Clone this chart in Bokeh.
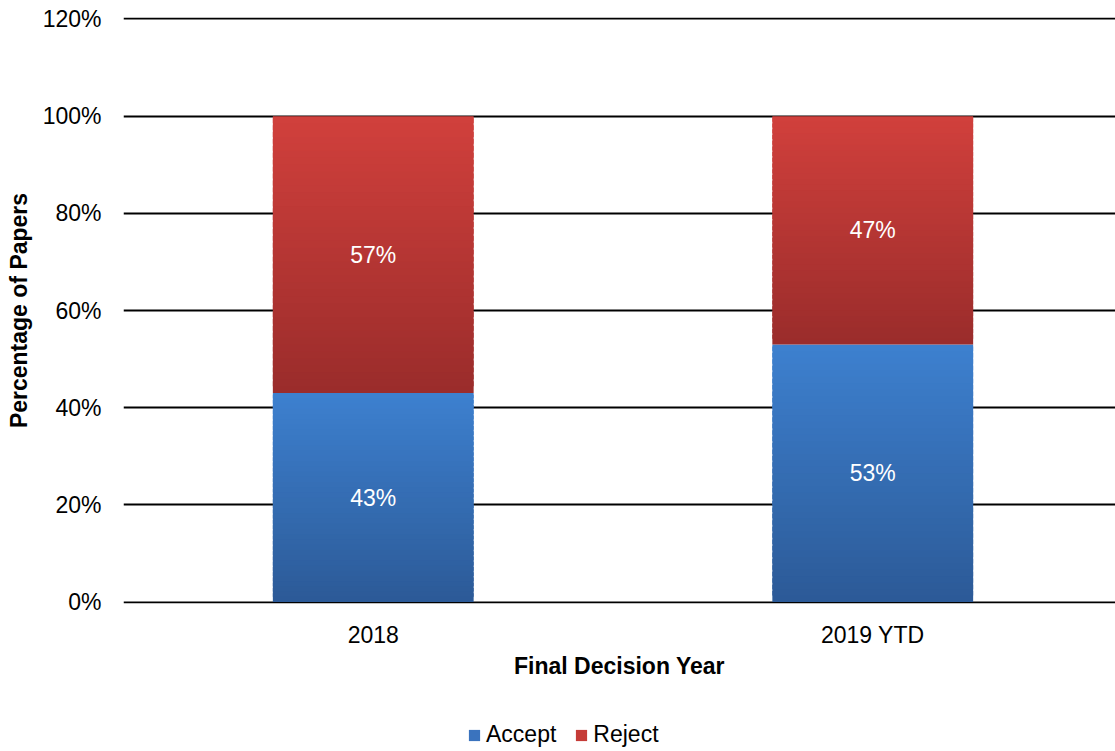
from bokeh.plotting import figure
from bokeh.layouts import column
from bokeh.models import Range1d, FixedTicker, ColumnDataSource, Legend, LegendItem
from bokeh.core.properties import value
from bokeh.embed import file_html
from bokeh.resources import INLINE

years = ["2018", "2019 YTD"]
accept = [43, 53]
reject = [57, 47]
y_ticks = [0, 20, 40, 60, 80, 100, 120]
series_names = ["Accept", "Reject"]

FONT = "Liberation Sans"

def lerp(c1, c2, t):
    return "#%02x%02x%02x" % tuple(int(round(a + (b - a) * t)) for a, b in zip(c1, c2))

blue_top, blue_bot = (61, 128, 207), (44, 90, 151)
red_top, red_bot = (209, 64, 60), (154, 44, 43)
legend_colors = {"Accept": "#3a73be", "Reject": "#c53b37"}

xs = [i + 0.5 for i in range(len(years))]

p = figure(width=1115, height=710, output_backend="svg", toolbar_location=None,
           x_range=Range1d(0, 1.986), y_range=Range1d(-0.3, 120.3),
           min_border_left=123, min_border_right=0, min_border_top=17, min_border_bottom=107)
p.outline_line_color = None
p.background_fill_color = "white"

N = 40
for name, vals, bases, ctop, cbot in [
        ("Accept", accept, [0, 0], blue_top, blue_bot),
        ("Reject", reject, accept, red_top, red_bot)]:
    bx, bb, bt, bc = [], [], [], []
    for x, v, b in zip(xs, vals, bases):
        step = v / N
        for k in range(N):
            lo = b + step * k
            hi = min(b + step * (k + 1.7), b + v)
            col = lerp(cbot, ctop, (k + 0.5) / N)
            bx.append(x); bb.append(lo); bt.append(hi); bc.append(col)
    src = ColumnDataSource(dict(x=bx, bottom=bb, top=bt, color=bc))
    p.vbar(x="x", bottom="bottom", top="top", width=0.402, source=src,
           fill_color="color", line_color=None)

# value labels
lab_x, lab_y, lab_t = [], [], []
for x, a, rj in zip(xs, accept, reject):
    lab_x += [x, x]
    lab_y += [a / 2, a + rj / 2]
    lab_t += ["%d%%" % a, "%d%%" % rj]
p.text(x=lab_x, y=lab_y, text=lab_t, text_color="white", text_align="center",
       text_baseline="middle", text_font=value(FONT), text_font_size="23px")

p.xgrid.grid_line_color = None
p.ygrid.ticker = FixedTicker(ticks=y_ticks)
p.ygrid.grid_line_color = "black"
p.ygrid.grid_line_width = 2

p.yaxis.ticker = FixedTicker(ticks=y_ticks)
p.yaxis.major_label_overrides = {t: "%d%%" % t for t in y_ticks}
p.yaxis.axis_line_color = None
p.yaxis.major_tick_line_color = None
p.yaxis.minor_tick_line_color = None
p.yaxis.major_label_standoff = 16
p.yaxis.major_label_text_font = FONT
p.yaxis.major_label_text_font_size = "23px"
p.yaxis.major_label_text_color = "black"
p.yaxis.axis_label = "Percentage of Papers"
p.yaxis.axis_label_text_font = FONT
p.yaxis.axis_label_text_font_size = "23px"
p.yaxis.axis_label_text_font_style = "bold"
p.yaxis.axis_label_text_color = "black"
p.yaxis.axis_label_standoff = 8

p.xaxis.ticker = FixedTicker(ticks=xs)
p.xaxis.major_label_overrides = {x: y for x, y in zip(xs, years)}
p.xaxis.axis_line_color = None
p.xaxis.major_tick_line_color = None
p.xaxis.minor_tick_line_color = None
p.xaxis.major_label_standoff = 12
p.xaxis.major_label_text_font = FONT
p.xaxis.major_label_text_font_size = "23px"
p.xaxis.major_label_text_color = "black"
p.xaxis.axis_label = "Final Decision Year"
p.xaxis.axis_label_text_font = FONT
p.xaxis.axis_label_text_font_size = "23px"
p.xaxis.axis_label_text_font_style = "bold"
p.xaxis.axis_label_text_color = "black"
p.xaxis.axis_label_standoff = 2

# legend strip
lg = figure(width=1115, height=41, output_backend="svg", toolbar_location=None,
            x_range=Range1d(0, 1), y_range=Range1d(0, 1),
            min_border_left=0, min_border_right=0, min_border_top=0, min_border_bottom=0)
lg.outline_line_color = None
lg.axis.visible = False
lg.grid.grid_line_color = None
items = []
for n, vals in zip(series_names, [accept, reject]):
    r = lg.vbar(x=xs, top=vals, width=0.1, fill_color=legend_colors[n], line_color=None,
                visible=False)
    items.append(LegendItem(label=n, renderers=[r]))
legend = Legend(items=items, orientation="horizontal", location=(344, 3))
legend.label_text_font = FONT
legend.label_text_font_size = "23px"
legend.label_text_color = "black"
legend.glyph_width = 14
legend.glyph_height = 14
legend.label_standoff = 5
legend.spacing = 18
legend.padding = 0
legend.margin = 0
legend.border_line_color = None
legend.background_fill_alpha = 0
legend.inactive_fill_alpha = 0
lg.add_layout(legend, "center")

layout = column(p, lg, spacing=0)
open("out.html", "w").write(file_html(layout, INLINE))
